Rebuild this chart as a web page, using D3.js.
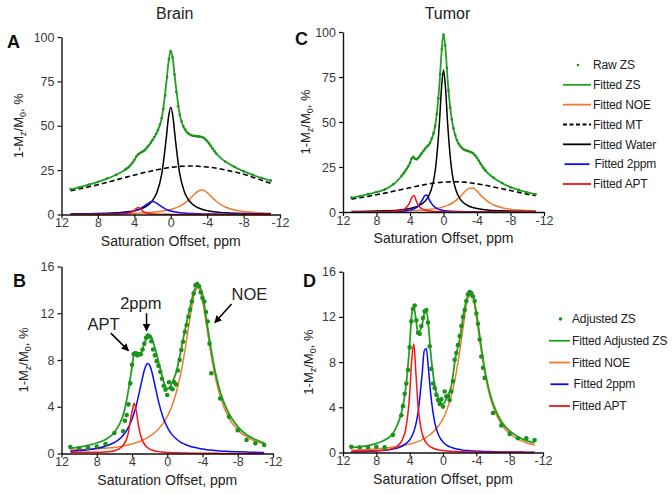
<!DOCTYPE html>
<html>
<head>
<meta charset="utf-8">
<script src="https://cdn.jsdelivr.net/npm/d3@7"></script>
<style>
  body { margin: 0; background: #fff; }
  svg text { font-family: "Liberation Sans", Arial, sans-serif; }
</style>
</head>
<body>
<svg id="chart" width="672" height="495"></svg>
<script>
// offsets (ppm) used for the fitted curves
var offsets = [11, 10, 9, 8, 7, 6, 5.5, 5, 4.5, 4, 3.75, 3.5, 3.25, 3, 2.5, 2.25, 2, 1.75, 1.5, 1,
  0.5, 0.25, 0, -0.25, -0.5, -1, -1.5, -2, -2.5, -3, -3.5, -4, -4.5, -5, -5.5, -6, -7, -8, -9, -10, -11];

// acquired saturation offsets (ppm) for the measured points
var rawOffsets = [11, 10, 9, 8, 7, 6, 5, 4.8, 4.6, 4.4, 4.2, 4, 3.8, 3.6, 3.4, 3.2, 3, 2.8, 2.6, 2.4,
  2.2, 2, 1.8, 1.6, 1.4, 1.2, 1, 0.8, 0.6, 0.4, 0.2, 0, -0.2, -0.4, -0.6, -0.8, -1, -1.2, -1.4, -1.6,
  -1.8, -2, -2.2, -2.4, -2.6, -2.8, -3, -3.2, -3.4, -3.6, -3.8, -4, -4.2, -4.4, -4.6, -4.8, -5,
  -6, -7, -8, -9, -10, -11];

var xTickValues = [12, 8, 4, 0, -4, -8, -12];
var zsTicks = [0, 25, 50, 75, 100];
var adjTicks = [0, 4, 8, 12, 16];

var zsLegend = ["Raw ZS", "Fitted ZS", "Fitted NOE", "Fitted MT", "Fitted Water", "Fitted 2ppm", "Fitted APT"];
var adjLegend = ["Adjusted ZS", "Fitted Adjusted ZS", "Fitted NOE", "Fitted 2ppm", "Fitted APT"];

// ---- Brain, full Z-spectrum ----
var brainRawZS = [14.3, 15.3, 16.9, 18.3, 20.3, 22.3, 25.3, 26.0, 26.9, 28.0, 29.3, 30.8, 32.5, 33.8, 34.5, 35.2,
  35.7, 36.6, 37.8, 39.0, 40.5, 42.0, 43.6, 45.5, 47.5, 50.5, 54.2, 59.5, 67.0, 77.5, 87.5, 92.0, 88.5, 79.0,
  69.0, 61.0, 56.2, 52.5, 49.5, 47.8, 46.3, 45.4, 44.8, 44.4, 44.3, 44.1, 44.0, 43.9, 43.7, 43.2, 42.4, 41.4,
  40.2, 38.7, 37.1, 35.7, 34.4, 29.7, 26.9, 24.3, 22.4, 20.5, 19.1];
var brainFitZS = [14.2, 15.4, 16.8, 18.4, 20.2, 22.4, 23.7, 25.2, 27.3, 30.6, 32.8, 34.2, 35.0, 35.8, 38.3, 40.0,
  42.0, 44.0, 46.5, 54.0, 73.5, 85.5, 92.5, 86.5, 75.0, 56.0, 48.3, 45.3, 44.3, 44.0, 43.6, 41.3, 37.8, 34.3,
  31.8, 29.8, 26.8, 24.4, 22.3, 20.6, 19.0];
var brainNOE = [0.2, 0.23, 0.26, 0.31, 0.37, 0.45, 0.5, 0.56, 0.63, 0.72, 0.77, 0.82, 0.88, 0.94, 1.1, 1.19,
  1.29, 1.4, 1.53, 1.85, 2.27, 2.54, 2.84, 3.2, 3.63, 4.73, 6.26, 8.35, 10.87, 13.1, 13.75, 12.32, 9.83, 7.45,
  5.59, 4.24, 2.59, 1.71, 1.2, 0.89, 0.68];
var brainMT = [13.4, 14.5, 15.6, 16.8, 18.1, 19.5, 20.2, 20.9, 21.5, 22.2, 22.5, 22.9, 23.2, 23.5, 24.1, 24.4,
  24.7, 25.0, 25.2, 25.7, 26.2, 26.4, 26.5, 26.7, 26.8, 27.1, 27.2, 27.3, 27.3, 27.2, 27.0, 26.8, 26.5, 26.1,
  25.6, 25.1, 24.0, 22.7, 21.0, 19.3, 17.5];
var brainWater = [0.3, 0.36, 0.44, 0.56, 0.73, 0.99, 1.18, 1.42, 1.74, 2.18, 2.47, 2.82, 3.25, 3.78, 5.3, 6.4,
  7.88, 9.9, 12.7, 22.6, 42.6, 54.7, 60.4, 54.7, 42.6, 22.6, 12.7, 7.88, 5.3, 3.78, 2.82, 2.18, 1.74, 1.42,
  1.18, 0.99, 0.73, 0.56, 0.44, 0.36, 0.3];
var brain2ppm = [0.13, 0.17, 0.22, 0.29, 0.41, 0.63, 0.8, 1.04, 1.41, 1.99, 2.4, 2.92, 3.58, 4.38, 6.26, 7.0,
  7.3, 7.0, 6.26, 4.38, 2.92, 2.4, 1.99, 1.67, 1.41, 1.04, 0.8, 0.63, 0.5, 0.41, 0.34, 0.29, 0.25, 0.22, 0.19,
  0.17, 0.13, 0.11, 0.09, 0.08, 0.06];
var brainAPT = [0.02, 0.02, 0.03, 0.05, 0.08, 0.16, 0.25, 0.43, 0.9, 2.32, 3.6, 3.9, 2.7, 1.56, 0.65, 0.46,
  0.34, 0.26, 0.2, 0.14, 0.1, 0.08, 0.07, 0.06, 0.06, 0.04, 0.04, 0.03, 0.03, 0.02, 0.02, 0.02, 0.01, 0.01,
  0.01, 0.01, 0.01, 0.01, 0.01, 0.01, 0.01];

// ---- Tumor, full Z-spectrum ----
var tumorRawZS = [8.0, 8.7, 10.0, 11.1, 12.5, 15.4, 20.1, 21.3, 22.6, 24.0, 25.5, 27.3, 29.6, 30.6, 29.5, 29.3,
  30.1, 31.3, 32.6, 33.9, 35.1, 36.2, 37.1, 38.5, 41.0, 43.8, 47.8, 54.5, 63.0, 76.5, 90.5, 98.5, 92.5, 80.0,
  67.5, 58.0, 51.5, 46.5, 42.8, 40.0, 38.0, 36.6, 35.6, 34.8, 34.3, 34.0, 33.8, 33.5, 32.9, 32.3, 31.4, 30.1,
  28.6, 27.1, 25.6, 24.3, 23.1, 19.0, 16.1, 13.7, 12.3, 10.8, 9.9];
var tumorFitZS = [7.9, 8.8, 9.9, 11.0, 12.6, 15.3, 17.4, 20.0, 23.2, 27.2, 30.4, 30.0, 29.2, 30.2, 33.3, 34.8,
  36.2, 37.4, 39.6, 47.5, 70.0, 87.5, 99.0, 90.0, 73.0, 51.0, 41.0, 36.5, 34.6, 33.8, 32.8, 30.0, 26.3, 23.0,
  20.7, 18.9, 16.0, 13.8, 12.2, 10.9, 9.8];
var tumorNOE = [0.19, 0.22, 0.26, 0.31, 0.37, 0.45, 0.5, 0.56, 0.63, 0.71, 0.76, 0.82, 0.88, 0.94, 1.1, 1.19,
  1.29, 1.41, 1.54, 1.87, 2.3, 2.57, 2.9, 3.27, 3.7, 4.86, 6.46, 8.6, 11.1, 13.1, 13.3, 11.6, 9.1, 6.84, 5.13,
  3.91, 2.41, 1.6, 1.14, 0.84, 0.65];
var tumorMT = [7.2, 7.9, 8.7, 9.6, 10.5, 11.5, 12.0, 12.5, 13.0, 13.5, 13.8, 14.0, 14.3, 14.5, 15.0, 15.2, 15.4,
  15.6, 15.8, 16.1, 16.4, 16.5, 16.6, 16.7, 16.7, 16.8, 16.8, 16.7, 16.6, 16.3, 16.0, 15.7, 15.3, 14.9, 14.4,
  13.9, 12.9, 11.9, 10.9, 9.9, 9.1];
var tumorWater = [0.26, 0.31, 0.39, 0.49, 0.64, 0.87, 1.03, 1.24, 1.53, 1.92, 2.18, 2.5, 2.88, 3.36, 4.75, 5.78,
  7.17, 9.11, 11.9, 22.5, 48.6, 68.2, 78.9, 68.2, 48.6, 22.5, 11.9, 7.17, 4.75, 3.36, 2.5, 1.92, 1.53, 1.24,
  1.03, 0.87, 0.64, 0.49, 0.39, 0.31, 0.26];
var tumor2ppm = [0.05, 0.07, 0.09, 0.12, 0.17, 0.27, 0.35, 0.48, 0.68, 1.04, 1.33, 1.75, 2.39, 3.36, 6.93, 8.95,
  9.4, 7.39, 5.22, 2.55, 1.41, 1.09, 0.87, 0.71, 0.59, 0.42, 0.32, 0.25, 0.2, 0.16, 0.14, 0.12, 0.1, 0.09,
  0.08, 0.07, 0.05, 0.04, 0.04, 0.03, 0.03];
var tumorAPT = [0.04, 0.06, 0.08, 0.12, 0.19, 0.38, 0.59, 1.03, 2.15, 5.55, 8.4, 9.1, 6.11, 3.73, 1.56, 1.1,
  0.81, 0.62, 0.49, 0.33, 0.23, 0.2, 0.17, 0.15, 0.13, 0.11, 0.09, 0.07, 0.06, 0.05, 0.05, 0.04, 0.04, 0.03,
  0.03, 0.03, 0.02, 0.02, 0.02, 0.01, 0.01];

// ---- Brain, adjusted Z-spectrum ----
var brainAdjZS = [0.55, 0.45, 0.5, 0.6, 0.8, 1.75, 1.9, 2.8, 3.3, 4.2, 6.0, 7.6, 8.5, 8.6, 8.4, 8.5, 8.5, 8.9,
  9.4, 9.9, 10.1, 10.0, 9.6, 8.9, 8.4, 7.9, 7.5, 7.0, 6.4, 5.8, 5.45, 5.0, 6.1, 5.6, 5.5, 6.1, 5.9, 7.1, 8.0,
  8.85, 9.56, 10.4, 11.0, 11.7, 12.3, 13.0, 13.7, 14.4, 14.5, 14.3, 13.8, 13.3, 13.0, 12.1, 11.3, 9.4, 6.86,
  4.7, 3.15, 2.0, 1.15, 0.87, 0.73];
var brainAdjFit = [0.45, 0.55, 0.7, 0.9, 1.2, 1.8, 2.4, 3.3, 5.0, 7.4, 8.6, 8.7, 8.5, 8.6, 9.6, 10.0, 10.1, 9.9,
  9.3, 7.9, 6.4, 5.8, 5.55, 5.6, 6.0, 6.9, 8.6, 10.5, 12.2, 13.8, 14.4, 13.6, 11.2, 8.8, 6.8, 5.3, 3.4, 2.3,
  1.6, 1.2, 0.9];
var brainAdjNOE = [0.3, 0.33, 0.36, 0.4, 0.45, 0.52, 0.58, 0.65, 0.73, 0.83, 0.88, 0.94, 1.0, 1.07, 1.25, 1.35,
  1.48, 1.6, 1.74, 2.1, 2.56, 2.84, 3.17, 3.56, 4.0, 5.15, 6.72, 8.79, 11.2, 13.4, 14.2, 13.05, 10.74, 8.34,
  6.37, 4.9, 3.03, 2.02, 1.42, 1.05, 0.8];
var brainAdj2ppm = [0.19, 0.25, 0.32, 0.43, 0.62, 0.94, 1.19, 1.57, 2.11, 2.94, 3.5, 4.17, 4.97, 5.83, 7.37, 7.7,
  7.55, 7.0, 6.18, 4.48, 3.15, 2.66, 2.25, 1.92, 1.66, 1.26, 0.98, 0.79, 0.64, 0.53, 0.45, 0.38, 0.33, 0.29,
  0.25, 0.22, 0.18, 0.15, 0.12, 0.1, 0.09];
var brainAdjAPT = [0.1, 0.1, 0.1, 0.1, 0.13, 0.24, 0.38, 0.69, 1.5, 3.56, 4.3, 3.56, 2.35, 1.5, 0.69, 0.51, 0.38,
  0.3, 0.24, 0.16, 0.12, 0.1, 0.09, 0.08, 0.07, 0.06, 0.05, 0.04, 0.03, 0.03, 0.02, 0.02, 0.02, 0.02, 0.02,
  0.01, 0.01, 0.01, 0.01, 0.01, 0.01];

// ---- Tumor, adjusted Z-spectrum ----
var tumorAdjZS = [0.5, 0.45, 0.45, 0.5, 0.45, 1.55, 3.3, 4.1, 5.2, 6.1, 7.3, 9.3, 11.6, 12.7, 13.0, 11.7, 10.6,
  10.5, 11.2, 11.9, 12.5, 12.6, 11.5, 9.4, 7.4, 6.1, 5.7, 5.1, 4.65, 4.3, 4.7, 4.06, 5.4, 4.95, 5.0, 4.65,
  5.4, 6.3, 8.2, 8.8, 9.5, 10.3, 11.2, 12.0, 12.6, 13.4, 14.0, 14.2, 14.1, 13.8, 13.4, 12.3, 11.4, 10.0,
  8.5, 7.5, 6.6, 3.5, 2.4, 1.64, 1.26, 1.26, 1.1];
var tumorAdjFit = [0.45, 0.5, 0.6, 0.8, 1.1, 1.7, 2.4, 3.5, 5.5, 9.5, 12.2, 12.9, 11.8, 10.6, 11.3, 12.3, 12.5,
  11.3, 9.0, 6.0, 4.7, 4.4, 4.3, 4.5, 4.9, 5.9, 8.4, 10.0, 12.4, 13.9, 14.0, 12.4, 9.8, 7.4, 5.6, 4.35, 2.75,
  1.9, 1.4, 1.05, 0.85];
var tumorAdjNOE = [0.2, 0.23, 0.27, 0.32, 0.38, 0.47, 0.52, 0.58, 0.65, 0.74, 0.79, 0.85, 0.91, 0.98, 1.14, 1.23,
  1.34, 1.46, 1.6, 1.94, 2.39, 2.67, 3.0, 3.39, 3.84, 5.04, 6.7, 8.92, 11.52, 13.7, 13.9, 12.02, 9.43, 7.1,
  5.32, 4.06, 2.5, 1.66, 1.18, 0.87, 0.67];
var tumorAdj2ppm = [0.06, 0.07, 0.1, 0.13, 0.19, 0.3, 0.39, 0.53, 0.76, 1.11, 1.42, 1.86, 2.51, 3.5, 7.0, 9.0,
  9.2, 7.44, 5.36, 2.68, 1.5, 1.17, 0.93, 0.75, 0.62, 0.45, 0.34, 0.27, 0.21, 0.17, 0.14, 0.12, 0.1, 0.09,
  0.08, 0.07, 0.05, 0.04, 0.04, 0.03, 0.03];
var tumorAdjAPT = [0.12, 0.13, 0.14, 0.16, 0.2, 0.36, 0.55, 0.96, 1.97, 5.16, 8.26, 9.6, 6.97, 4.19, 1.68, 1.16,
  0.85, 0.64, 0.5, 0.33, 0.23, 0.2, 0.17, 0.15, 0.13, 0.1, 0.08, 0.07, 0.06, 0.05, 0.04, 0.04, 0.03, 0.03,
  0.03, 0.02, 0.02, 0.02, 0.01, 0.01, 0.01];

var GREEN = "#22a022", DOT = "#1b931b", ORANGE = "#ed7d31", BLUE = "#0a0aff", RED = "#ff1010";

var svg = d3.select("#chart");

var defs = svg.append("defs");
defs.append("marker")
    .attr("id", "arrow")
    .attr("viewBox", "0 0 10 10")
    .attr("refX", 9).attr("refY", 5)
    .attr("markerWidth", 5).attr("markerHeight", 5)
    .attr("orient", "auto")
  .append("path")
    .attr("d", "M0,0 L10,5 L0,10 z")
    .attr("fill", "#000");

/**
 * Draws one panel: axes, labels, curves and points.
 */
function drawPanel(p) {
    var g = svg.append("g");

    var x = d3.scaleLinear().domain([12, -12]).range([p.left, p.right]);
    var y = d3.scaleLinear().domain([p.yTicks[0], p.yTicks[p.yTicks.length - 1]]).range([p.bottom, p.top]);

    var line = d3.line()
        .x(function (d, i) { return x(offsets[i]); })
        .y(function (d) { return y(d); })
        .curve(d3.curveMonotoneX);

    p.curves.forEach(function (c) {
        g.append("path")
            .attr("d", line(c.values))
            .attr("fill", "none")
            .attr("stroke", c.color)
            .attr("stroke-width", c.width || 1.5)
            .attr("stroke-dasharray", c.dash || null);
    });

    g.selectAll("circle.raw").data(p.raw).enter()
        .append("circle")
        .attr("cx", function (d, i) { return x(rawOffsets[i]); })
        .attr("cy", function (d) { return y(d); })
        .attr("r", p.dotR)
        .attr("fill", DOT);

    var xAxis = g.append("g")
        .attr("transform", "translate(0," + p.bottom + ")")
        .call(d3.axisBottom(x).tickValues(xTickValues).tickFormat(function (d) { return String(d); })
            .tickSize(4).tickSizeOuter(0).tickPadding(0));
    var yAxis = g.append("g")
        .attr("transform", "translate(" + p.left + ",0)")
        .call(d3.axisLeft(y).tickValues(p.yTicks).tickFormat(function (d) { return String(d); })
            .tickSize(4).tickSizeOuter(0).tickPadding(3));

    [xAxis, yAxis].forEach(function (a) {
        a.select(".domain").attr("stroke", "#111").attr("stroke-width", 1.4);
        a.selectAll(".tick line").attr("stroke", "#111").attr("stroke-width", 1.2);
        a.selectAll(".tick text").attr("font-size", 12.5).attr("fill", "#3a3a3a")
            .attr("font-family", "Liberation Sans, Arial, sans-serif");
    });

    g.append("text")
        .attr("x", (p.left + p.right) / 2)
        .attr("y", p.bottom + 31)
        .attr("text-anchor", "middle")
        .attr("font-size", 14)
        .attr("fill", "#222")
        .text("Saturation Offset, ppm");

    var yl = g.append("text")
        .attr("transform", "translate(" + p.yLabelX + "," + ((p.top + p.bottom) / 2) + ") rotate(-90)")
        .attr("text-anchor", "middle")
        .attr("font-size", 13)
        .attr("fill", "#222");
    yl.append("tspan").text("1-M");
    yl.append("tspan").attr("font-size", 9).attr("dy", 3).text("z");
    yl.append("tspan").attr("dy", -3).text("/M");
    yl.append("tspan").attr("font-size", 9).attr("dy", 3).text("0");
    yl.append("tspan").attr("dy", -3).text(", %");

    g.append("text")
        .attr("x", p.letterX).attr("y", p.letterY)
        .attr("font-size", 18).attr("font-weight", "bold")
        .attr("fill", "#111")
        .text(p.letter);

    if (p.title) {
        g.append("text")
            .attr("x", x(0) + 4).attr("y", 19)
            .attr("text-anchor", "middle")
            .attr("font-size", 16).attr("fill", "#222")
            .text(p.title);
    }

    return {x: x, y: y, g: g};
}

function drawLegend(labels, styles, lineX1, lineX2, textX, yTop, yBottom) {
    var ly = d3.scalePoint().domain(labels).range([yTop, yBottom]);
    var lg = svg.append("g");
    labels.forEach(function (lab, i) {
        var s = styles[i];
        var yy = ly(lab);
        if (s.dot) {
            lg.append("circle").attr("cx", (lineX1 + lineX2) / 2 + 1).attr("cy", yy).attr("r", s.dot).attr("fill", DOT);
        } else {
            lg.append("line")
                .attr("x1", lineX1 + (s.inset || 0)).attr("x2", lineX2 - (s.inset || 0))
                .attr("y1", yy).attr("y2", yy)
                .attr("stroke", s.color).attr("stroke-width", 1.8)
                .attr("stroke-dasharray", s.dash || null);
        }
        lg.append("text")
            .attr("x", textX + (s.inset || 0)).attr("y", yy)
            .attr("dy", "0.35em")
            .attr("font-size", 12).attr("letter-spacing", -0.15).attr("fill", "#222")
            .text(lab);
    });
}

// ---- panel A: Brain ----
drawPanel({
    left: 61.5, right: 280, top: 37, bottom: 214.5, yTicks: zsTicks,
    yLabelX: 23, letter: "A", letterX: 7, letterY: 48, title: "Brain",
    raw: brainRawZS, dotR: 1.3,
    curves: [
        {values: brainMT, color: "#000", dash: "5,3", width: 1.6},
        {values: brainNOE, color: ORANGE},
        {values: brainWater, color: "#000"},
        {values: brain2ppm, color: BLUE},
        {values: brainAPT, color: RED},
        {values: brainFitZS, color: GREEN, width: 1.8}
    ]
});

// ---- panel C: Tumor ----
drawPanel({
    left: 343, right: 544, top: 32, bottom: 212, yTicks: zsTicks,
    yLabelX: 310, letter: "C", letterX: 295, letterY: 45, title: "Tumor",
    raw: tumorRawZS, dotR: 1.3,
    curves: [
        {values: tumorMT, color: "#000", dash: "5,3", width: 1.6},
        {values: tumorNOE, color: ORANGE},
        {values: tumorWater, color: "#000"},
        {values: tumor2ppm, color: BLUE},
        {values: tumorAPT, color: RED},
        {values: tumorFitZS, color: GREEN, width: 1.8}
    ]
});

// ---- panel B: Brain adjusted ----
var pb = drawPanel({
    left: 61.5, right: 273, top: 266.5, bottom: 453.5, yTicks: adjTicks,
    yLabelX: 28, letter: "B", letterX: 13, letterY: 287,
    raw: brainAdjZS, dotR: 2.3,
    curves: [
        {values: brainAdjNOE, color: ORANGE},
        {values: brainAdj2ppm, color: BLUE},
        {values: brainAdjAPT, color: RED},
        {values: brainAdjFit, color: GREEN, width: 1.8}
    ]
});

// ---- panel D: Tumor adjusted ----
drawPanel({
    left: 343, right: 543, top: 271.7, bottom: 452.5, yTicks: adjTicks,
    yLabelX: 313, letter: "D", letterX: 303, letterY: 287,
    raw: tumorAdjZS, dotR: 2.3,
    curves: [
        {values: tumorAdjNOE, color: ORANGE},
        {values: tumorAdj2ppm, color: BLUE},
        {values: tumorAdjAPT, color: RED},
        {values: tumorAdjFit, color: GREEN, width: 1.8}
    ]
});

// annotations in panel B (data coordinates)
var notes = [
    {text: "APT", tx: 9.05, ty: 10.6, anchor: "start", a: [6.4, 10.3, 4.4, 8.8]},
    {text: "2ppm", tx: 3.0, ty: 12.35, anchor: "middle", a: [2.35, 12.0, 2.35, 10.5]},
    {text: "NOE", tx: -7.3, ty: 13.15, anchor: "start", a: [-7.3, 12.8, -5.4, 11.2]}
];
notes.forEach(function (n) {
    pb.g.append("text")
        .attr("x", pb.x(n.tx)).attr("y", pb.y(n.ty))
        .attr("text-anchor", n.anchor)
        .attr("font-size", 16.5).attr("fill", "#222")
        .text(n.text);
    pb.g.append("line")
        .attr("x1", pb.x(n.a[0])).attr("y1", pb.y(n.a[1]))
        .attr("x2", pb.x(n.a[2])).attr("y2", pb.y(n.a[3]))
        .attr("stroke", "#000").attr("stroke-width", 1.5)
        .attr("marker-end", "url(#arrow)");
});

drawLegend(zsLegend, [
    {dot: 1.3}, {color: GREEN}, {color: ORANGE}, {color: "#000", dash: "4,2.5"},
    {color: "#000"}, {color: BLUE, inset: 1.5}, {color: RED}
], 563, 591, 593, 65, 184);

drawLegend(adjLegend, [
    {dot: 1.8}, {color: GREEN}, {color: ORANGE}, {color: BLUE, inset: 1.5}, {color: RED}
], 549, 570, 572, 319, 406);
</script>
</body>
</html>
